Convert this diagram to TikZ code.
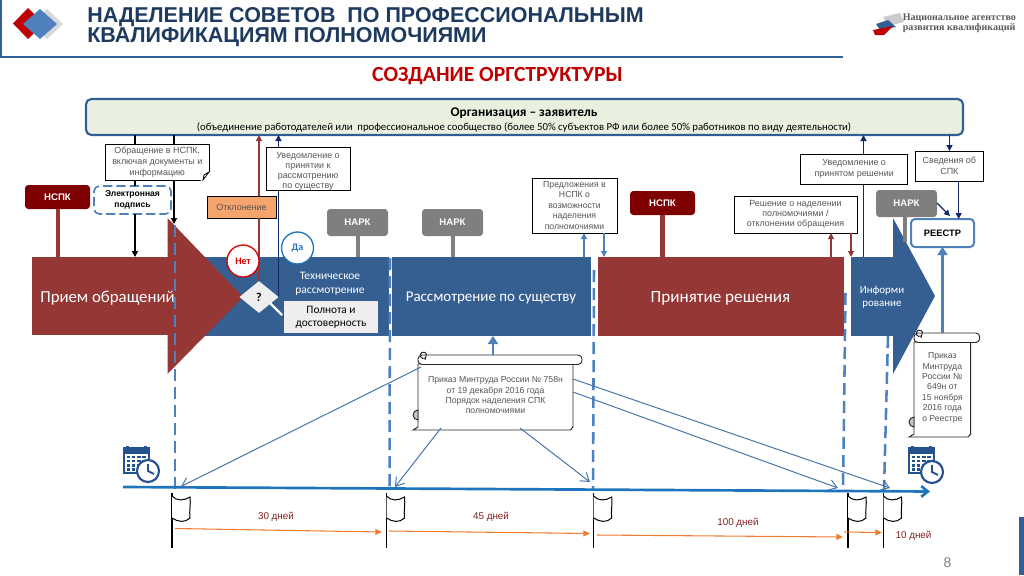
\documentclass[tikz,border=0pt]{standalone}
\usepackage{fontspec}
\setmainfont{Liberation Sans}
\newfontfamily\crl{Carlito}
\newfontfamily\lser{Liberation Serif}
\usetikzlibrary{arrows.meta,shapes.geometric}
\definecolor{hdr}{HTML}{2F5F94}
\definecolor{ttl}{HTML}{1F3A5F}
\definecolor{ttlred}{HTML}{C00000}
\definecolor{orgfill}{HTML}{EAF0E0}
\definecolor{maroon}{HTML}{953735}
\definecolor{dkred}{HTML}{7F0000}
\definecolor{band}{HTML}{365F91}
\definecolor{lblue}{HTML}{4F81BD}
\definecolor{navy}{HTML}{10296B}
\definecolor{narkgray}{HTML}{7F7F7F}
\definecolor{boxtxt}{HTML}{555555}
\definecolor{tline}{HTML}{1F75BD}
\definecolor{orng}{HTML}{ED7D31}
\definecolor{days}{HTML}{7F1F1F}
\definecolor{panel}{HTML}{EEEEEE}
\definecolor{otkl}{HTML}{F4A46C}
\definecolor{calblue}{HTML}{24528F}
\newcommand{\bx}[7]{%
  \pgfmathsetmacro\bcx{(#3+#5)/2}\pgfmathsetmacro\bcy{(#4+#6)/2}%
  \pgfmathsetmacro\bw{(#5-#3)*0.75}\pgfmathsetmacro\bh{(#6-#4)*0.75}%
  \node[inner sep=0pt,outer sep=0pt,align=center,minimum width=\bw pt,minimum height=\bh pt,#2] (#1) at (\bcx,\bcy) {#7};}
\newcommand{\scrl}[6]{%
  \pgfmathsetmacro\sa{#2+0}\pgfmathsetmacro\sb{#3+0}\pgfmathsetmacro\sc{#4+0}\pgfmathsetmacro\sd{#5+0}%
  \draw[scrollline,fill=white] (\sa,\sb+9) -- (\sc,\sb+9) -- (\sc,\sd-3) to[out=90,in=0] (\sc-3,\sd) -- (\sa-5,\sd) -- (\sa,\sd-3) -- cycle;
  \draw[scrollline,fill=white,rounded corners=3pt] (\sa,\sb+9.5) -- (\sa,\sb) -- (\sc+9,\sb) -- (\sc+9,\sb+9.5) -- cycle;
  \draw[scrollline] (\sa+7,\sb+3) arc (60:340:3.2) -- (\sa+7,\sb+5);
  \draw[scrollline,fill=gray!45] (\sa,\sd-10) arc (90:270:5) -- cycle;
  \bx{#1}{scrolltext}{#2}{#3+9.5}{#4}{#5-4}{#6}}
\newcommand{\flg}[3]{%
  \coordinate (#1) at (#2,#3);
  \draw[flagline] (#2,#3) -- ++(0,55);
  \draw[flagline,line width=.75pt,fill=white] (#2,#3+3) .. controls (#2+4,#3+8) and (#2+12,#3+8) .. (#2+18,#3+4) .. controls (#2+19,#3+11) and (#2+17,#3+18) .. (#2+18,#3+25) .. controls (#2+13,#3+30) and (#2+6,#3+29) .. (#2,#3+25);}
\newcommand{\calico}[4]{%
  \fill[calblue] (#1,#2) rectangle +(27,27);
  \fill[white] (#1+2,#2+7) rectangle +(23,18);
  \foreach \i in {0,...,3}\foreach \j in {0,...,3}{\fill[calblue] (#1+3.5+\i*5.3,#2+8.5+\j*4.2) rectangle +(3.6,2.6);}
  \fill[calblue] (#1+3,#2-1.5) rectangle +(3,4);
  \fill[calblue] (#1+21,#2-1.5) rectangle +(3,4);
  \draw[line width=1.6pt,calblue,fill=white] (#3,#4) circle (11);
  \draw[line width=1.4pt,calblue] (#3,#4-7) -- (#3,#4) -- (#3+6,#4+3);}
\tikzset{
  boxn/.style={draw=black,fill=white,line width=.6pt,text=boxtxt,font=\fontsize{6.7}{7.7}\selectfont},
  scrollline/.style={draw=black!85,line width=.7pt},
  scrolltext/.style={text=boxtxt,font=\fontsize{6.5}{7.8}\selectfont},
  flagline/.style={draw=black,line width=1.1pt},
  nark/.style={fill=narkgray,rounded corners=2.5pt,text=white,font=\bfseries\fontsize{7.2}{9}\selectfont},
  nspk/.style={fill=dkred,rounded corners=2.5pt,text=white,font=\bfseries\fontsize{7.2}{9}\selectfont},
  post/.style={line width=3.6pt},
  dashv/.style={draw=lblue,line width=1.9pt,dash pattern=on 9pt off 4.5pt},
  blk/.style={draw=black,line width=.9pt,-{Triangle[length=4.5pt,width=4.5pt]}},
  nav/.style={draw=navy,line width=.9pt,-{Triangle[length=4.5pt,width=4.5pt]}},
  mar/.style={draw=maroon,line width=.9pt,-{Triangle[length=4.5pt,width=4.5pt]}},
  blu/.style={draw=lblue,line width=.9pt,-{Triangle[length=4.5pt,width=4.5pt]}},
  bluT/.style={draw=lblue,line width=2.2pt,-{Triangle[length=6pt,width=7.5pt]}},
  thinb/.style={draw=lblue!90!black,line width=.75pt,-{Straight Barb[length=6pt,width=8pt]}},
  orr/.style={draw=orng,line width=.8pt,-{Triangle[length=5pt,width=4.5pt]}},
  dayl/.style={text=days,inner sep=0pt,font=\fontsize{7.4}{9}\selectfont},
  crltx/.style={text=white,inner sep=0pt,font=\crl\fontsize{12}{14}\selectfont}
}
\begin{document}
\begin{tikzpicture}[x=0.75pt,y=-0.75pt]
\useasboundingbox (0,0) rectangle (1024,575);
% header
\draw[hdr,line width=2pt] (1,0) -- (1,57) -- (843,57);
\fill[hdr] (1019,517) rectangle (1024,575);
\fill[black!15] (47,9) -- (63,24) -- (47,39) -- (30,24) -- cycle;
\fill[ttlred] (28,8) -- (44,23.5) -- (28,39) -- (13,23.5) -- cycle;
\fill[lblue] (40,9) -- (57,24) -- (40,39) -- (23,24) -- cycle;
\node[anchor=west,inner sep=0pt,text=ttl,font=\bfseries\fontsize{16.1}{15}\selectfont,align=left] (title) at (87,27) {НАДЕЛЕНИЕ СОВЕТОВ~~ПО ПРОФЕССИОНАЛЬНЫМ\\КВАЛИФИКАЦИЯМ ПОЛНОМОЧИЯМИ};
\fill[black!20] (883,17) -- (900,13) -- (904,22) -- (888,26) -- cycle;
\fill[hdr] (876,24) -- (888,20) -- (896,27) -- (880,30) -- cycle;
\fill[ttlred] (873,30) -- (893,26) -- (884,35) -- (875,35) -- cycle;
\node[anchor=west,inner sep=0pt,text=black!65,font=\lser\bfseries\fontsize{7.5}{7.6}\selectfont,align=left] (nark0) at (902.5,23) {Национальное агентство\\развития квалификаций};
\node[inner sep=0pt,text=ttlred,font=\crl\bfseries\fontsize{16.2}{18}\selectfont] (sub) at (497.5,76) {СОЗДАНИЕ ОРГСТРУКТУРЫ};
% organisation
\bx{org}{draw=hdr,line width=1.6pt,fill=orgfill,rounded corners=4pt}{86}{99}{963}{135}{}
\node[inner sep=0pt,font=\crl\bfseries\fontsize{10}{12}\selectfont] (orgt) at (524,113) {Организация – заявитель};
\node[inner sep=0pt,font=\crl\fontsize{8.05}{10}\selectfont] (orgs) at (524,127.5) {(объединение работодателей или~~профессиональное сообщество (более 50\% субъектов РФ или более 50\% работников по виду деятельности)};
% bands and arrows
\bx{nspk1}{nspk}{25}{185}{90}{209}{НСПК}
\bx{band1}{fill=band}{200}{257}{388.5}{336}{}
\bx{band2}{fill=band}{392}{257}{590.7}{336}{}
\bx{priem}{fill=maroon}{32}{257}{168}{335}{}
\draw[post,maroon] (nspk1.south -| 58,0) -- (priem.north -| 58,0);
\fill[maroon] (167.5,218) -- (243,297) -- (167.5,374) -- cycle;
\bx{reshen}{fill=maroon}{597.7}{257}{844.3}{336}{}
\bx{inform}{fill=band}{851}{257}{893}{336}{}
\fill[band] (893,218) -- (935,296) -- (893,374) -- cycle;
% dashed
\draw[dashv] (175,225) -- (175,490);
\draw[dashv] (390,258) -- (389.5,490);
\draw[dashv] (594,270) -- (593,490);
\draw[dashv] (845.5,293) -- (843,490);
\draw[dashv] (888,336) -- (884,490);
% labels on bands
\node[crltx,font=\crl\fontsize{12.6}{14}\selectfont] (priemt) at (107.5,298.5) {Прием обращений};
\node[crltx,font=\crl\fontsize{11.25}{14}\selectfont] (rst) at (491,298) {Рассмотрение по существу};
\node[crltx,font=\crl\fontsize{12.85}{14}\selectfont] (rest) at (720.5,298.5) {Принятие решения};
\node[crltx,font=\crl\fontsize{8.2}{10}\selectfont,align=center] (inft) at (882,297.5) {Информи\\рование};
\node[crltx,font=\crl\fontsize{8.6}{10.5}\selectfont,align=center] (tech) at (330,283.5) {Техническое\\рассмотрение};
\bx{poln}{fill=panel,font=\crl\fontsize{8.5}{9.5}\selectfont}{284}{301}{378}{333}{Полнота и\\достоверность}
% application boxes
\bx{obr}{boxn,font=\fontsize{6.7}{8}\selectfont}{105.5}{144}{209}{180}{Обращение в НСПК,\\включая документы и\\информацию}
\draw[white,fill=white] (209.8,180.8) -- (209.8,172) -- (201,180.8) -- cycle;
\draw[line width=.6pt,fill=white] (209,172) -- (203,180) -- (204,175) -- cycle;
\bx{esign}{draw=lblue,line width=1.2pt,dash pattern=on 7pt off 3pt,rounded corners=4pt,fill=white,font=\bfseries\fontsize{6.4}{8}\selectfont}{94}{186}{171}{214}{Электронная\\подпись}
\draw[black,line width=.9pt] (org.south -| 135,0) -- (obr.north -| 135,0);
\draw[black,line width=.9pt] (obr.south -| 135,0) -- (esign.north -| 135,0);
\draw[blk] (esign.south -| 135,0) -- (priem.north -| 135,0);
\draw[black,line width=.9pt] (org.south -| 174,0) -- (obr.north -| 174,0);
\coordinate (sigend) at (174,224);
\draw[blk] (obr.south -| 174,0) -- (sigend);
% decision
\node[diamond,fill=panel,inner sep=0pt,minimum width=29.5pt,minimum height=24pt,font=\crl\bfseries\fontsize{9}{10}\selectfont] (dec) at (259,297) {?};
\draw[white,line width=1.6pt] (270,303) -- (282,315);
\bx{otkl}{draw=black,line width=.6pt,fill=otkl,text=boxtxt,font=\fontsize{6.7}{8}\selectfont}{207}{196}{276}{218}{Отклонение}
\bx{uvp}{boxn}{266}{148}{350}{190}{\rule{0pt}{8pt}Уведомление о\\принятии к\\рассмотрению\\по существу}
\draw[draw=maroon,line width=.9pt] (dec.north -| 259,0) -- (otkl.south -| 259,0);
\draw[mar] (otkl.north -| 259,0) -- (org.south -| 259,0);
\draw[draw=navy,line width=.9pt] (dec.east -| 278.5,0) -- (uvp.south -| 278.5,0);
\draw[nav] (uvp.north -| 278.5,0) -- (org.south -| 278.5,0);
\node[circle,draw=red!85!black,line width=1pt,fill=white,text=red!85!black,minimum size=24pt,inner sep=0pt,font=\crl\bfseries\fontsize{7.5}{9}\selectfont] (net) at (243,261) {Нет};
\node[circle,draw=tline,line width=1pt,fill=white,text=tline,minimum size=24pt,inner sep=0pt,font=\crl\bfseries\fontsize{7.5}{9}\selectfont] (da) at (297.5,248) {Да};
% NARK / NSPK
\bx{nark1}{nark}{327}{209}{388}{236}{НАРК}
\draw[post,narkgray] (nark1.south -| 358,0) -- (band1.north -| 358,0);
\bx{nark2}{nark}{422}{209}{483}{236}{НАРК}
\draw[post,narkgray] (nark2.south -| 453,0) -- (band2.north -| 453,0);
\bx{nspk2}{nspk}{630}{191}{695}{215}{НСПК}
\draw[post,maroon] (nspk2.south -| 662.7,0) -- (reshen.north -| 662.7,0);
\bx{nark3}{nark}{876}{190}{937}{217}{НАРК}
\coordinate (n3e) at (905,242);
\draw[post,narkgray] (nark3.south -| 905,0) -- (n3e);
% proposal boxes
\bx{pred}{boxn,font=\fontsize{6.5}{7.9}\selectfont}{532}{178}{617}{233}{Предложения в\\НСПК о\\возможности\\наделения\\полномочиями}
\draw[blu] (band2.north -| 584,0) -- (pred.south -| 584,0);
\draw[blu] (pred.south -| 604,0) -- (reshen.north -| 604,0);
\bx{resh}{boxn}{734}{196}{857}{233}{Решение о наделении\\полномочиями /\\отклонении обращения}
\draw[mar] (reshen.north -| 831,0) -- (resh.south -| 831,0);
\draw[mar] (resh.south -| 851,0) -- (inform.north -| 851,0);
\bx{uvr}{boxn,font=\fontsize{6.7}{8}\selectfont}{800.7}{154}{907.7}{184}{Уведомление о\\принятом решении}
\draw[draw=navy,line width=.9pt] (inform.north -| 863.5,0) -- (uvr.south -| 863.5,0);
\draw[nav] (uvr.north -| 863.5,0) -- (org.south -| 863.5,0);
\bx{sved}{boxn,font=\fontsize{6.7}{8}\selectfont}{915}{151}{983.7}{181}{Сведения об\\СПК}
\draw[nav] (org.south -| 949.5,0) -- (sved.north -| 949.5,0);
\bx{reestr}{draw=lblue,line width=1.5pt,fill=white,rounded corners=3pt,font=\bfseries\fontsize{7}{9}\selectfont}{911}{219}{974}{247}{РЕЕСТР}
\draw[nav] (sved.south -| 958.7,0) -- (reestr.north -| 958.7,0);
\coordinate (n3a) at (937,203);
\coordinate (n3b) at (950,216);
\draw[nav] (n3a) -- (n3b);
% scrolls
\scrl{pr758}{418}{355}{573}{430}{Приказ Минтруда России № 758н\\от 19 декабря 2016 года\\Порядок наделения СПК\\полномочиями}
\draw[bluT] (493,355) -- (band2.south -| 493,0);
\scrl{pr649}{914}{333}{970.7}{437}{Приказ\\Минтруда\\России №\\649н от\\15 ноября\\2016 года\\о Реестре}
\draw[bluT] (942.5,333) -- (reestr.south -| 942.5,0);
% timeline
\calico{123}{447}{148}{471}
\calico{908}{447}{932}{472}
\coordinate (t0) at (123,487);
\coordinate (t1) at (930,491.5);
\draw[tline,line width=2pt,-{Straight Barb[length=5pt,width=8pt]}] (t0) -- (t1);
\coordinate (a1) at (181,486.5);
\coordinate (a2) at (395,487);
\coordinate (a3) at (590,482);
\coordinate (a4) at (838,488);
\coordinate (a5) at (890,488);
\draw[thinb] (421,367) -- (a1);
\draw[thinb] (441,428) -- (a2);
\draw[thinb] (520,428) -- (a3);
\draw[thinb] (573,392) -- (a4);
\draw[thinb] (573,379) -- (a5);
% flags
\flg{f1}{172}{493}
\flg{f2}{386.5}{493}
\flg{f3}{593.7}{493}
\flg{f4}{848}{493}
\flg{f5}{883.5}{493}
% durations
\coordinate (d1a) at (175,528.5);\coordinate (d1b) at (382,532);
\draw[orr] (d1a) -- (d1b);
\coordinate (d2a) at (389,531);\coordinate (d2b) at (590,533.5);
\draw[orr] (d2a) -- (d2b);
\coordinate (d3a) at (597,535);\coordinate (d3b) at (843,537);
\draw[orr] (d3a) -- (d3b);
\coordinate (d4a) at (844,532);\coordinate (d4b) at (882,532.5);
\draw[orr] (d4a) -- (d4b);
\node[dayl] (l30) at (276,517) {30 дней};
\node[dayl] (l45) at (491,517) {45 дней};
\node[dayl] (l100) at (738,523) {100 дней};
\node[dayl] (l10) at (913.5,535.5) {10 дней};
\node[inner sep=0pt,text=gray,font=\fontsize{10.5}{12}\selectfont] (pg) at (947.5,563) {8};
\end{tikzpicture}
\end{document}
